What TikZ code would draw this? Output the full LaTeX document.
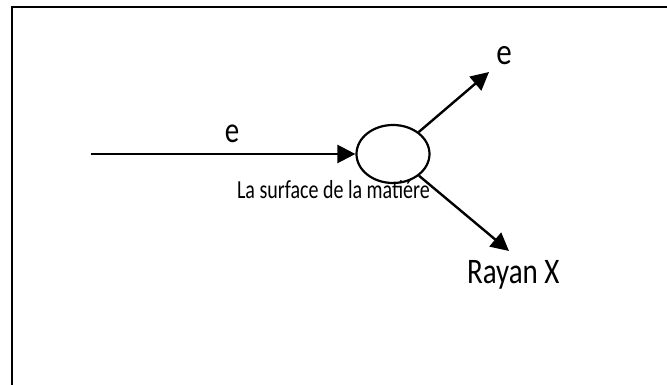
\documentclass[tikz,border=0pt]{standalone}
\usepackage{fontspec}
\usepackage{graphicx}
\setmainfont{Carlito}
\usetikzlibrary{arrows.meta,shapes.geometric}
\newcommand{\vstr}[2]{\scalebox{1}[#1]{#2}}
\tikzset{
  frameline/.style={line width=2.2pt, black},
  ray/.style={line width=2.4pt, -{Triangle[length=18pt,width=18pt]}},
  lbl/.style={inner sep=0pt, outer sep=0pt},
}
\begin{document}
\begin{tikzpicture}[x=1pt,y=-1pt]
\useasboundingbox (0,0) rectangle (667,385);
\draw[frameline] (12,386) -- (12,7) -- (668,7);
\node[lbl, anchor=base west] (surf) at (237,199) {\fontsize{20}{22}\selectfont\vstr{1.3}{La surface de la matiére}};
\node[draw, line width=2.2pt, ellipse, minimum width=73pt, minimum height=58pt, inner sep=0pt] (ell) at (393,154) {};
\coordinate (src) at (91,154);
\coordinate (tipA) at (489,72);
\coordinate (tipB) at (509,251);
\draw[ray] (src) -- (ell.west);
\draw[ray] (ell) -- (tipA);
\draw[ray] (ell) -- (tipB);
\node[lbl] (ein) at (232,134) {\fontsize{29}{32}\selectfont\vstr{1.25}{e}};
\node[lbl] (eout) at (504,56) {\fontsize{31}{34}\selectfont\vstr{1.2}{e}};
\node[lbl, anchor=base west] (rx) at (467,283) {\fontsize{29}{32}\selectfont\vstr{1.24}{Rayan X}};
\end{tikzpicture}
\end{document}
